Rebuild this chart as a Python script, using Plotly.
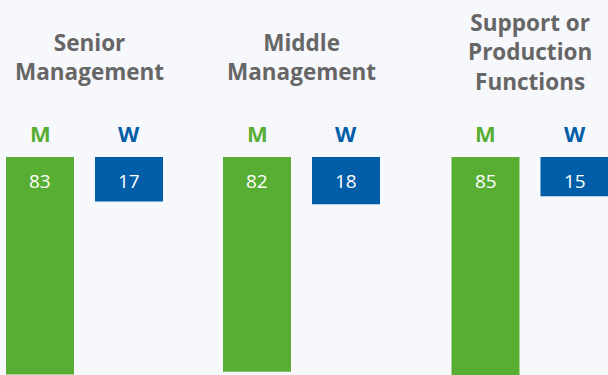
import plotly.graph_objects as go

# Share of men (M) and women (W) per job level, in percent
groups = ["Senior<br>Management", "Middle<br>Management", "Support or<br>Production<br>Functions"]
men = [83, 82, 85]
women = [17, 18, 15]
series_labels = ["M", "W"]

GREEN = "#58AE33"
BLUE = "#005EA8"
GREY = "#666666"
BG = "#F7F8FC"
FONT = "Open Sans"

# horizontal layout (pixel-based x axis)
group_centers = [84.5, 301.5, 530]
half_gap = 44.5
bar_width = 68
title_dx = [5, 0, 0]
title_shift = [100.5, 100.5, 105.5]

x_m = [c - half_gap for c in group_centers]
x_w = [c + half_gap for c in group_centers]

fig = go.Figure()
fig.add_trace(go.Bar(x=x_m, y=men, width=bar_width, marker=dict(color=GREEN, line_width=0),
                     name=series_labels[0], hoverinfo="skip"))
fig.add_trace(go.Bar(x=x_w, y=women, width=bar_width, marker=dict(color=BLUE, line_width=0),
                     name=series_labels[1], hoverinfo="skip"))

annotations = []
for i, g in enumerate(groups):
    annotations.append(dict(x=group_centers[i] + title_dx[i], y=0, xref="x", yref="y",
                            text=f"<b>{g}</b>", showarrow=False, yanchor="middle",
                            yshift=title_shift[i],
                            font=dict(family=FONT, size=22.5, color=GREY)))
    for xs, vals, lab, col in ((x_m, men, series_labels[0], GREEN), (x_w, women, series_labels[1], BLUE)):
        annotations.append(dict(x=xs[i], y=0, xref="x", yref="y", text=f"<b>{lab}</b>",
                                showarrow=False, yanchor="middle", yshift=24,
                                font=dict(family=FONT, size=22, color=col)))
        annotations.append(dict(x=xs[i], y=0, xref="x", yref="y", text=str(vals[i]),
                                showarrow=False, yanchor="middle", yshift=-24,
                                font=dict(family=FONT, size=19, color="white")))

fig.update_layout(
    width=608, height=375,
    margin=dict(l=0, r=0, t=157, b=0),
    paper_bgcolor=BG, plot_bgcolor=BG,
    showlegend=False,
    barmode="overlay",
    xaxis=dict(range=[0, 608], visible=False, fixedrange=True),
    yaxis=dict(range=[83.2, 0], visible=False, fixedrange=True),
    annotations=annotations,
)

fig.write_html("out.html", config={"displayModeBar": False})
